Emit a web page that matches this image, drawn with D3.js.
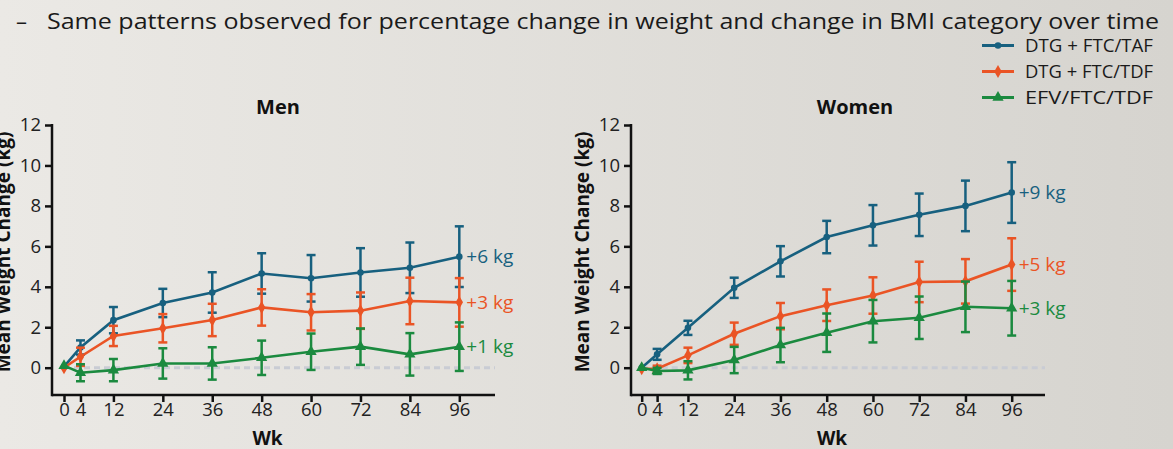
<!DOCTYPE html>
<html>
<head>
<meta charset="utf-8">
<script src="https://cdn.jsdelivr.net/npm/d3@7"></script>
<style>
  html, body { margin: 0; padding: 0; }
  body { width: 1173px; height: 449px; overflow: hidden; }
  text { font-family: "Open Sans", "Noto Sans", sans-serif; }
</style>
</head>
<body>
<svg id="chart" width="1173" height="449"></svg>
<script>
const weeks = [0, 4, 12, 24, 36, 48, 60, 72, 84, 96];
const yTicks = [0, 2, 4, 6, 8, 10, 12];
const seriesNames = ["DTG + FTC/TAF", "DTG + FTC/TDF", "EFV/FTC/TDF"];
const colors = ["#17607f", "#ea5425", "#1b8a3f"];
const markers = ["circle", "diamond", "triangle"];

// Men: mean and +/- error
const menTAF = [0.05, 1.0, 2.35, 3.2, 3.72, 4.66, 4.42, 4.71, 4.94, 5.49];
const menTAFErr = [0, 0.35, 0.65, 0.7, 1.0, 1.0, 1.15, 1.2, 1.25, 1.5];
const menTDF = [0, 0.54, 1.57, 1.95, 2.36, 2.98, 2.74, 2.82, 3.3, 3.23];
const menTDFErr = [0, 0.45, 0.5, 0.7, 0.8, 0.9, 0.9, 0.9, 1.15, 1.2];
const menEFV = [0.1, -0.25, -0.12, 0.21, 0.21, 0.49, 0.79, 1.04, 0.66, 1.04];
const menEFVErr = [0, 0.42, 0.55, 0.75, 0.8, 0.85, 0.9, 0.9, 1.05, 1.2];
const menLabels = ["+6 kg", "+3 kg", "+1 kg"];

// Women
const womenTAF = [0, 0.66, 1.97, 3.95, 5.26, 6.46, 7.04, 7.56, 8.0, 8.66];
const womenTAFErr = [0, 0.27, 0.35, 0.5, 0.75, 0.8, 1.0, 1.05, 1.25, 1.5];
const womenTDF = [-0.05, -0.05, 0.61, 1.68, 2.55, 3.09, 3.57, 4.24, 4.27, 5.1];
const womenTDFErr = [0, 0.15, 0.38, 0.55, 0.65, 0.78, 0.9, 1.0, 1.1, 1.3];
const womenEFV = [0, -0.16, -0.13, 0.38, 1.12, 1.73, 2.3, 2.47, 3.01, 2.94];
const womenEFVErr = [0, 0.15, 0.45, 0.65, 0.85, 0.95, 1.05, 1.05, 1.25, 1.35];
const womenLabels = ["+9 kg", "+5 kg", "+3 kg"];

const svg = d3.select("#chart");

// background gradient
const defs = svg.append("defs");
const grad = defs.append("linearGradient").attr("id", "bg").attr("x1", 0).attr("x2", 1).attr("y1", 0).attr("y2", 0);
grad.append("stop").attr("offset", "0%").attr("stop-color", "#ebe9e5");
grad.append("stop").attr("offset", "100%").attr("stop-color", "#d6d4cf");
svg.append("rect").attr("width", 1173).attr("height", 449).attr("fill", "url(#bg)");

// heading
svg.append("text").attr("x", 16).attr("y", 29).attr("font-size", 22).attr("fill", "#1a1a1a").text("–");
svg.append("text").attr("x", 47).attr("y", 29).attr("font-size", 22).attr("fill", "#1a1a1a")
  .attr("textLength", 1112).attr("lengthAdjust", "spacingAndGlyphs")
  .text("Same patterns observed for percentage change in weight and change in BMI category over time");

function marker(g, type, x, y, color) {
  if (type === "circle") {
    g.append("circle").attr("cx", x).attr("cy", y).attr("r", 3.3).attr("fill", color);
  } else if (type === "diamond") {
    g.append("path").attr("d", d3.symbol(d3.symbolDiamond, 48)()).attr("transform", `translate(${x},${y})`).attr("fill", color);
  } else {
    g.append("path").attr("d", d3.symbol(d3.symbolTriangle, 55)()).attr("transform", `translate(${x},${y})`).attr("fill", color);
  }
}

function drawPanel(cfg) {
  const g = svg.append("g");
  const x = d3.scaleLinear().domain([0, 96]).range(cfg.xRange);
  const y = d3.scaleLinear().domain([0, 12]).range([367.7, 125]);
  const axisBottomY = 395;

  // zero dashed line
  g.append("line").attr("x1", x(0)).attr("x2", cfg.axisRight).attr("y1", y(0)).attr("y2", y(0))
    .attr("stroke", "#c9ccd4").attr("stroke-width", 3).attr("stroke-dasharray", "6,4");

  // axes
  const yAxis = g.append("g").attr("transform", `translate(${cfg.axisX},0)`)
    .call(d3.axisLeft(y).tickValues(yTicks).tickSize(7).tickPadding(4));
  yAxis.select(".domain").remove();
  yAxis.append("line").attr("x1", 0).attr("x2", 0).attr("y1", y(12) - 1).attr("y2", axisBottomY + 1.2)
    .attr("stroke", "#111").attr("stroke-width", 2.5);

  const xAxis = g.append("g").attr("transform", `translate(0,${axisBottomY})`)
    .call(d3.axisBottom(x).tickValues(weeks).tickSize(7).tickPadding(3));
  xAxis.select(".domain").remove();
  xAxis.append("line").attr("x1", cfg.axisX).attr("x2", cfg.axisRight).attr("y1", 0).attr("y2", 0)
    .attr("stroke", "#111").attr("stroke-width", 2.5);

  g.selectAll(".tick line").attr("stroke", "#111").attr("stroke-width", 2.5);
  g.selectAll(".tick text").attr("font-size", 18.5).attr("fill", "#222")
    .attr("font-family", "Open Sans, sans-serif");
  xAxis.selectAll(".tick text").attr("dy", "0.62em");

  // titles
  g.append("text").attr("x", cfg.titleX).attr("y", 114).attr("text-anchor", "middle")
    .attr("font-size", 20).attr("font-weight", "bold").attr("fill", "#111").text(cfg.title);
  g.append("text").attr("x", (cfg.axisX + cfg.axisRight) / 2 - 6).attr("y", 445).attr("text-anchor", "middle")
    .attr("font-size", 19).attr("font-weight", "bold").attr("fill", "#111").text("Wk");
  g.append("text").attr("transform", `translate(${cfg.axisX - 42},252) rotate(-90)`).attr("text-anchor", "middle")
    .attr("font-size", 19).attr("font-weight", "bold").attr("fill", "#111").text("Mean Weight Change (kg)");

  const line = d3.line().x((d, i) => x(weeks[i])).y(d => y(d));

  cfg.series.forEach((s, k) => {
    const color = colors[k];
    const sg = g.append("g");
    // error bars
    s.values.forEach((v, i) => {
      const e = s.err[i];
      if (e <= 0) return;
      const cx = x(weeks[i]);
      sg.append("line").attr("x1", cx).attr("x2", cx).attr("y1", y(v - e)).attr("y2", y(v + e))
        .attr("stroke", color).attr("stroke-width", 2.5);
      [v - e, v + e].forEach(b => {
        sg.append("line").attr("x1", cx - 4.5).attr("x2", cx + 4.5).attr("y1", y(b)).attr("y2", y(b))
          .attr("stroke", color).attr("stroke-width", 2.5);
      });
    });
    sg.append("path").datum(s.values).attr("d", line).attr("fill", "none")
      .attr("stroke", color).attr("stroke-width", 2.6);
    s.values.forEach((v, i) => marker(sg, markers[k], x(weeks[i]), y(v), color));
    sg.append("text").attr("x", x(96) + 7).attr("y", y(s.values[9]) + 6.5)
      .attr("font-size", 19).attr("fill", color).text(cfg.labels[k]);
  });
}

drawPanel({
  title: "Men", titleX: 278, axisX: 52, axisRight: 495, xRange: [64, 459.3],
  labels: menLabels,
  series: [
    { values: menTAF, err: menTAFErr },
    { values: menTDF, err: menTDFErr },
    { values: menEFV, err: menEFVErr }
  ]
});
drawPanel({
  title: "Women", titleX: 855, axisX: 631, axisRight: 1045, xRange: [641.7, 1011.7],
  labels: womenLabels,
  series: [
    { values: womenTAF, err: womenTAFErr },
    { values: womenTDF, err: womenTDFErr },
    { values: womenEFV, err: womenEFVErr }
  ]
});

// legend
const leg = svg.append("g");
seriesNames.forEach((name, k) => {
  const ly = 45.5 + k * 26;
  leg.append("line").attr("x1", 982).attr("x2", 1014).attr("y1", ly).attr("y2", ly)
    .attr("stroke", colors[k]).attr("stroke-width", 3);
  marker(leg, markers[k], 998, ly, colors[k]);
  leg.append("text").attr("x", 1025).attr("y", ly + 6.5).attr("font-size", 18.5).attr("fill", "#1a1a1a")
    .attr("textLength", 128).attr("lengthAdjust", "spacingAndGlyphs").text(name);
});
</script>
</body>
</html>
